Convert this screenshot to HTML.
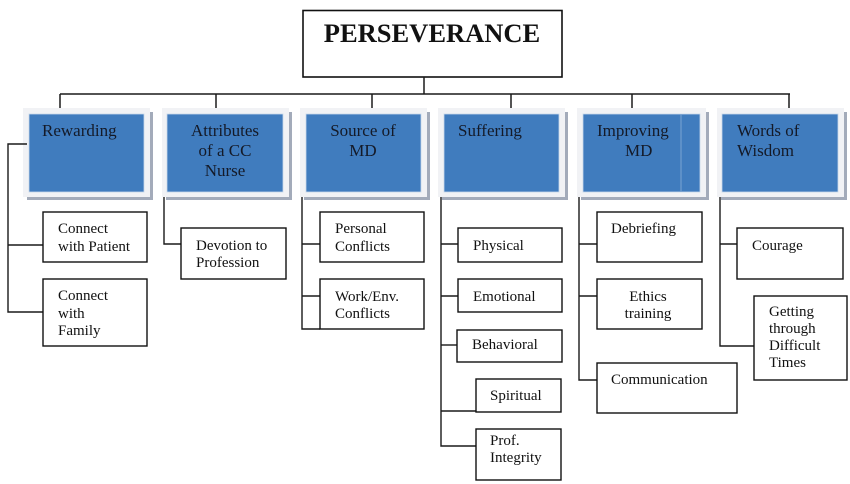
<!DOCTYPE html>
<html>
<head>
<meta charset="utf-8">
<style>
html,body{margin:0;padding:0;background:#fff;}
body{width:850px;height:484px;overflow:hidden;position:relative;}
svg{position:absolute;left:0;top:0;}
text{font-family:"Liberation Serif","Times New Roman",serif;fill:#111;}
.t{font-size:15px;}
.b{font-size:17px;fill:#141a28;}
</style>
</head>
<body>
<svg width="850" height="484" viewBox="0 0 850 484" xmlns="http://www.w3.org/2000/svg">
  <!-- Title -->
  <rect x="303" y="10.5" width="259" height="66.5" fill="#fff" stroke="#111" stroke-width="1.6"/>
  <text x="432" y="42" text-anchor="middle" style="font-size:26.5px;font-weight:bold;">PERSEVERANCE</text>

  <!-- top connectors -->
  <g stroke="#1a1a1a" stroke-width="1.5" fill="none">
    <line x1="424" y1="77" x2="424" y2="94"/>
    <line x1="60" y1="94" x2="790" y2="94"/>
    <line x1="60" y1="94" x2="60" y2="110"/>
    <line x1="216" y1="94" x2="216" y2="110"/>
    <line x1="372" y1="94" x2="372" y2="110"/>
    <line x1="511" y1="94" x2="511" y2="110"/>
    <line x1="632" y1="94" x2="632" y2="110"/>
    <line x1="789" y1="94" x2="789" y2="110"/>
  </g>

  <!-- blue boxes: shadow, frame, fill -->
  <g>
    <!-- shadows -->
    <g fill="#a3abba">
      <rect x="150" y="112" width="3" height="88"/><rect x="27" y="197" width="126" height="3"/>
      <rect x="289" y="112" width="3" height="88"/><rect x="166" y="197" width="126" height="3"/>
      <rect x="427" y="112" width="3" height="88"/><rect x="304" y="197" width="126" height="3"/>
      <rect x="565" y="112" width="3" height="88"/><rect x="442" y="197" width="126" height="3"/>
      <rect x="706" y="112" width="3" height="88"/><rect x="581" y="197" width="128" height="3"/>
      <rect x="844" y="112" width="3" height="88"/><rect x="721" y="197" width="126" height="3"/>
    </g>
    <g fill="#f1f2f5">
      <rect x="23" y="108" width="127" height="89"/>
      <rect x="162" y="108" width="127" height="89"/>
      <rect x="300" y="108" width="127" height="89"/>
      <rect x="438" y="108" width="127" height="89"/>
      <rect x="577" y="108" width="129" height="89"/>
      <rect x="717" y="108" width="127" height="89"/>
    </g>
    <g fill="#407cbe" stroke="#c9d8ea" stroke-width="0.8">
      <rect x="29" y="114" width="115" height="78"/>
      <rect x="167" y="114" width="116" height="78"/>
      <rect x="306" y="114" width="115" height="78"/>
      <rect x="444" y="114" width="115" height="78"/>
      <rect x="583" y="114" width="117" height="78"/>
      <rect x="722" y="114" width="116" height="78"/>
    </g>
    <line x1="681" y1="114" x2="681" y2="192" stroke="#7aa3d3" stroke-width="1"/>
  </g>

  <!-- blue box text -->
  <text class="b" x="42" y="136">Rewarding</text>
  <text class="b" x="225" y="136" text-anchor="middle">Attributes</text>
  <text class="b" x="225" y="156" text-anchor="middle">of a CC</text>
  <text class="b" x="225" y="176" text-anchor="middle">Nurse</text>
  <text class="b" x="363" y="136" text-anchor="middle">Source of</text>
  <text class="b" x="363" y="156" text-anchor="middle">MD</text>
  <text class="b" x="458" y="136">Suffering</text>
  <text class="b" x="597" y="136">Improving</text>
  <text class="b" x="625" y="156">MD</text>
  <text class="b" x="737" y="136">Words of</text>
  <text class="b" x="737" y="156">Wisdom</text>

  <!-- child connectors -->
  <g stroke="#1a1a1a" stroke-width="1.4" fill="none">
    <!-- Rewarding -->
    <polyline points="27,144 8,144 8,312 43,312"/>
    <line x1="8" y1="245" x2="43" y2="245"/>
    <!-- Attributes -->
    <polyline points="164,197 164,244 181,244"/>
    <!-- Source -->
    <polyline points="302,197 302,329 320,329"/>
    <line x1="302" y1="244" x2="320" y2="244"/>
    <line x1="302" y1="296" x2="320" y2="296"/>
    <!-- Suffering -->
    <polyline points="441,197 441,446 476,446"/>
    <line x1="441" y1="244" x2="458" y2="244"/>
    <line x1="441" y1="296" x2="458" y2="296"/>
    <line x1="441" y1="345" x2="457" y2="345"/>
    <line x1="441" y1="411" x2="476" y2="411"/>
    <!-- Improving -->
    <polyline points="579,197 579,380 597,380"/>
    <line x1="579" y1="244" x2="597" y2="244"/>
    <line x1="579" y1="296" x2="597" y2="296"/>
    <!-- Words -->
    <polyline points="720,197 720,346 754,346"/>
    <line x1="720" y1="244" x2="737" y2="244"/>
  </g>

  <!-- child boxes -->
  <g fill="#fff" stroke="#111" stroke-width="1.4">
    <rect x="43" y="212" width="104" height="50"/>
    <rect x="43" y="279" width="104" height="67"/>
    <rect x="181" y="228" width="105" height="51"/>
    <rect x="320" y="212" width="104" height="50"/>
    <rect x="320" y="279" width="104" height="50"/>
    <rect x="458" y="228" width="104" height="34"/>
    <rect x="458" y="279" width="104" height="33"/>
    <rect x="457" y="330" width="105" height="32"/>
    <rect x="476" y="379" width="85" height="33"/>
    <rect x="476" y="429" width="85" height="51"/>
    <rect x="597" y="212" width="105" height="50"/>
    <rect x="597" y="279" width="105" height="50"/>
    <rect x="597" y="363" width="140" height="50"/>
    <rect x="737" y="228" width="106" height="51"/>
    <rect x="754" y="296" width="93" height="84"/>
  </g>

  <!-- child text -->
  <text class="t" x="58" y="233">Connect</text>
  <text class="t" x="58" y="251">with Patient</text>
  <text class="t" x="58" y="300">Connect</text>
  <text class="t" x="58" y="318">with</text>
  <text class="t" x="58" y="335">Family</text>
  <text class="t" x="196" y="250">Devotion to</text>
  <text class="t" x="196" y="267">Profession</text>
  <text class="t" x="335" y="233">Personal</text>
  <text class="t" x="335" y="251">Conflicts</text>
  <text class="t" x="335" y="301">Work/Env.</text>
  <text class="t" x="335" y="318">Conflicts</text>
  <text class="t" x="473" y="250">Physical</text>
  <text class="t" x="473" y="301">Emotional</text>
  <text class="t" x="472" y="349">Behavioral</text>
  <text class="t" x="490" y="400">Spiritual</text>
  <text class="t" x="490" y="445">Prof.</text>
  <text class="t" x="490" y="462">Integrity</text>
  <text class="t" x="611" y="233">Debriefing</text>
  <text class="t" x="648" y="301" text-anchor="middle">Ethics</text>
  <text class="t" x="648" y="318" text-anchor="middle">training</text>
  <text class="t" x="611" y="384">Communication</text>
  <text class="t" x="752" y="250">Courage</text>
  <text class="t" x="769" y="316">Getting</text>
  <text class="t" x="769" y="333">through</text>
  <text class="t" x="769" y="350">Difficult</text>
  <text class="t" x="769" y="367">Times</text>
</svg>
</body>
</html>
